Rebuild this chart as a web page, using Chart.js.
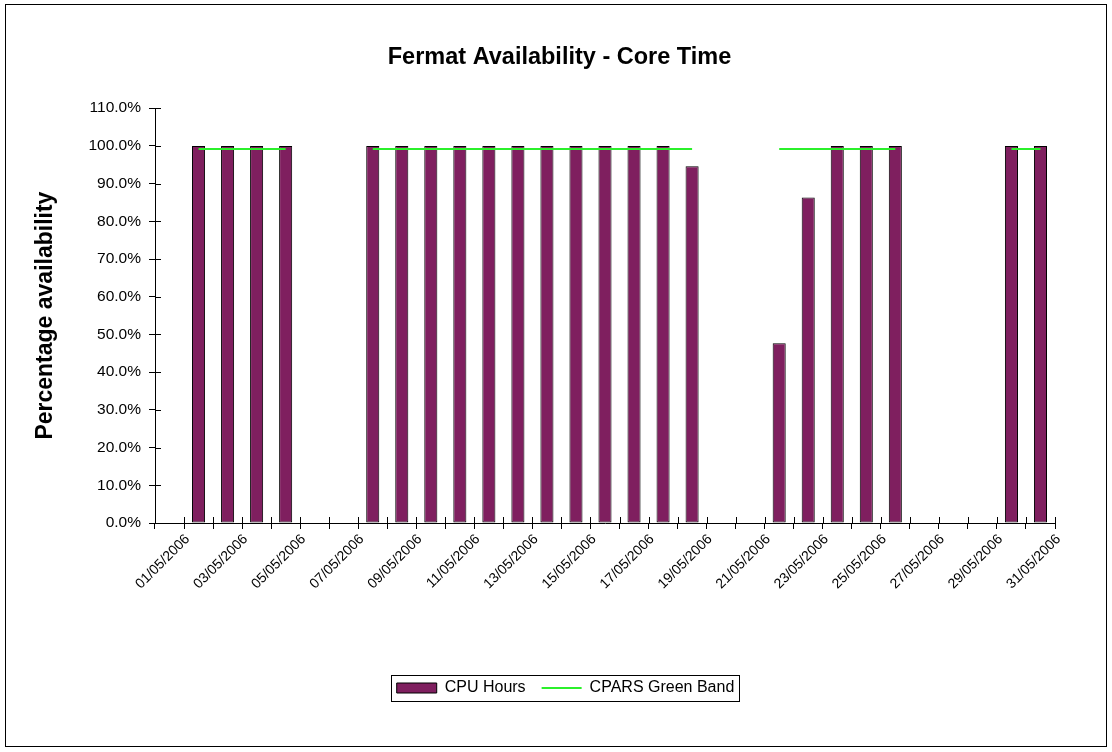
<!DOCTYPE html>
<html>
<head>
<meta charset="utf-8">
<script src="https://cdn.jsdelivr.net/npm/chart.js@4.4.1/dist/chart.umd.min.js"></script>
<style>
  html, body { margin: 0; padding: 0; background: #fff; }
  #wrap { width: 1112px; height: 752px; }
</style>
</head>
<body>
<div id="wrap"><canvas id="chart" width="1112" height="752"></canvas></div>
<script>
// May 2006, one category per day
const days = [];
for (let d = 1; d <= 31; d++) {
  days.push(String(d).padStart(2, "0") + "/05/2006");
}

// percentage availability per day (null = no bar)
const cpuHours = [
  null, 100, 100, 100, 100, null, null, 100, 100, 100,
  100, 100, 100, 100, 100, 100, 100, 100, 94.6, null,
  null, 47.7, 86.3, 100, 100, 100, null, null, null, 100,
  100,
];

// CPARS green band level, only drawn over the runs of days that have data
const greenBand = [
  null, 99.2, 99.2, 99.2, 99.2, null, null, 99.2, 99.2, 99.2,
  99.2, 99.2, 99.2, 99.2, 99.2, 99.2, 99.2, 99.2, 99.2, null,
  null, 99.2, 99.2, 99.2, 99.2, 99.2, null, null, null, 99.2,
  99.2,
];

const yTicks = [0, 10, 20, 30, 40, 50, 60, 70, 80, 90, 100, 110];

const FONT = "'Liberation Sans', Arial, sans-serif";
const LEGEND_SHIFT = 28;
const TITLE_SHIFT = 22;

// white page + outer frame + legend frame + inner tick halves
const framePlugin = {
  id: "frame",
  beforeDraw(chart) {
    const ctx = chart.ctx;
    ctx.save();
    ctx.fillStyle = "#fff";
    ctx.fillRect(0, 0, chart.width, chart.height);
    ctx.strokeStyle = "#000";
    ctx.lineWidth = 1;
    ctx.strokeRect(5.5, 4.5, chart.width - 11, chart.height - 10);
    ctx.restore();
  },
  afterLayout(chart) {
    // title and legend in the original sit a little right of centre
    const legend = chart.legend;
    legend.left += LEGEND_SHIFT;
    legend.right += LEGEND_SHIFT;
    legend.legendHitBoxes.forEach(h => { h.left += LEGEND_SHIFT; });
    chart.titleBlock.left += TITLE_SHIFT;
    chart.titleBlock.right += TITLE_SHIFT;
  },
  afterDraw(chart) {
    const ctx = chart.ctx;
    const legend = chart.legend;
    ctx.save();
    ctx.strokeStyle = "#000";
    ctx.lineWidth = 1;
    if (legend && legend.legendHitBoxes.length) {
      const boxes = legend.legendHitBoxes;
      const first = boxes[0];
      const last = boxes[boxes.length - 1];
      const l = Math.round(first.left) - 5.5;
      const r = Math.round(last.left + last.width) + 5.5;
      const t = Math.round(first.top) - 4.5;
      const b = Math.round(first.top + first.height) + 5.5;
      ctx.strokeRect(l, t, r - l, b - t);
    }
    // tick marks crossing into the plot, as Excel draws them
    const x = chart.scales.x;
    const y = chart.scales.y;
    const step = x.getPixelForTick(1) - x.getPixelForTick(0);
    ctx.beginPath();
    yTicks.forEach(v => {
      const py = Math.round(y.getPixelForValue(v)) + 0.5;
      ctx.moveTo(x.left, py);
      ctx.lineTo(x.left + 6, py);
    });
    for (let i = 0; i <= days.length; i++) {
      const px = Math.round(x.getPixelForTick(0) + (i - 0.5) * step) + 0.5;
      ctx.moveTo(px, y.bottom);
      ctx.lineTo(px, y.bottom - 6);
    }
    ctx.stroke();
    ctx.restore();
  },
};

const ctx = document.getElementById("chart").getContext("2d");
new Chart(ctx, {
  data: {
    labels: days,
    datasets: [
      {
        type: "bar",
        label: "CPU Hours",
        data: cpuHours,
        backgroundColor: "#7f1f5f",
        borderColor: "#000",
        borderWidth: 1,
        borderSkipped: false,
        categoryPercentage: 0.45,
        barPercentage: 1,
        pointStyle: "rect",
        order: 2,
      },
      {
        type: "line",
        label: "CPARS Green Band",
        data: greenBand,
        borderColor: "#2bf02b",
        backgroundColor: "#2bf02b",
        borderWidth: 2,
        pointRadius: 0,
        pointStyle: "line",
        spanGaps: false,
        order: 1,
      },
    ],
  },
  options: {
    responsive: false,
    animation: false,
    layout: { padding: { left: 20, right: 57, top: 0, bottom: 46 } },
    plugins: {
      title: {
        display: true,
        text: "Fermat Availability - Core Time",
        color: "#000",
        font: { family: FONT, size: 23.5, weight: "bold" },
        padding: { top: 43, bottom: 37 },
      },
      legend: {
        position: "bottom",
        labels: {
          color: "#000",
          font: { family: FONT, size: 16 },
          usePointStyle: true,
          pointStyleWidth: 40,
          boxHeight: 10,
          padding: 16,
          sort: (a, b) => a.datasetIndex - b.datasetIndex,
        },
      },
      tooltip: { enabled: false },
    },
    scales: {
      x: {
        type: "category",
        offset: true,
        grid: {
          offset: true,
          drawOnChartArea: false,
          color: "#000",
          tickLength: 6,
        },
        border: { color: "#000", width: 1 },
        ticks: {
          autoSkip: false,
          minRotation: 45,
          maxRotation: 45,
          color: "#000",
          font: { family: FONT, size: 14 },
          padding: 2,
          labelOffset: 18,
          callback: (val, i) => (i % 2 === 0 ? days[i] : ""),
        },
        afterFit: (scale) => { scale.height = 141; },
      },
      y: {
        min: 0,
        max: 110,
        afterBuildTicks: (scale) => { scale.ticks = yTicks.map(v => ({ value: v })); },
        grid: {
          drawOnChartArea: false,
          color: "#000",
          tickLength: 6,
        },
        border: { color: "#000", width: 1 },
        ticks: {
          color: "#000",
          font: { family: FONT, size: 15.5 },
          padding: 8,
          callback: (v) => v.toFixed(1) + "%",
        },
        title: {
          display: true,
          text: "Percentage availability",
          color: "#000",
          font: { family: FONT, size: 23, weight: "bold" },
          padding: { top: 12, bottom: 8 },
        },
        afterFit: (scale) => { scale.width = 135; },
      },
    },
  },
  plugins: [framePlugin],
});
</script>
</body>
</html>
